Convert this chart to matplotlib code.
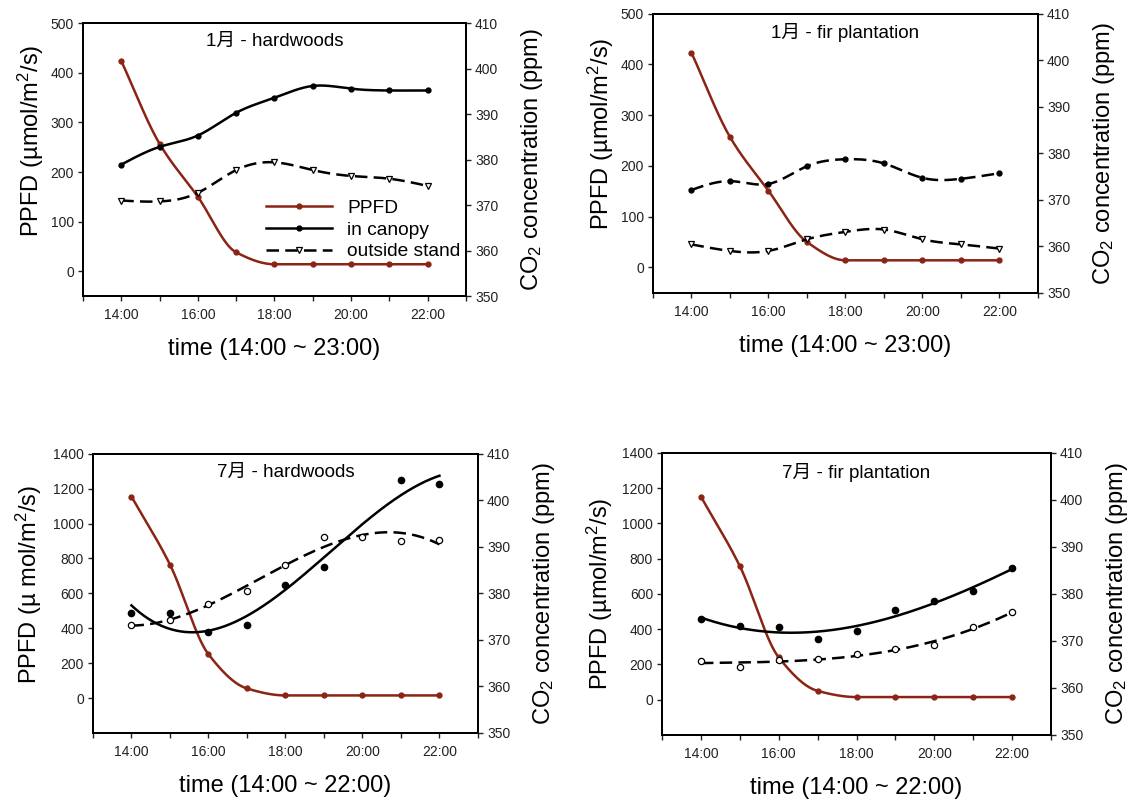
import numpy as np
import matplotlib
matplotlib.use("Agg")
import matplotlib.pyplot as plt

plt.rcParams['font.family'] = ['Liberation Sans', 'Noto Sans CJK SC', 'DejaVu Sans']
plt.rcParams['mathtext.fontset'] = 'custom'
plt.rcParams['mathtext.rm'] = 'Liberation Sans'
plt.rcParams['mathtext.it'] = 'Liberation Sans:italic'

hours = [14, 15, 16, 17, 18, 19, 20, 21, 22]

# January
jan_hw_ppfd = [424, 257, 150, 38, 14, 14, 14, 14, 14]
jan_hw_canopy = [378.9, 382.8, 385.3, 390.3, 393.6, 396.2, 395.6, 395.2, 395.2]
jan_hw_outside = [371.0, 370.8, 372.7, 377.7, 379.4, 377.7, 376.4, 375.8, 374.2]

jan_fir_ppfd = [423, 257, 151, 50, 14, 14, 14, 14, 14]
jan_fir_canopy = [372.1, 374.0, 373.4, 377.2, 378.7, 377.8, 374.7, 374.5, 375.7]
jan_fir_outside = [360.4, 359.0, 359.0, 361.5, 363.1, 363.6, 361.5, 360.4, 359.5]

# July
jul_hw_ppfd = [1155, 765, 251, 55, 15, 15, 15, 15, 15]
jul_hw_canopy = [375.7, 375.7, 371.8, 373.2, 381.8, 385.7, np.nan, 404.3, 403.6]
jul_hw_outside = [373.2, 374.3, 377.7, 380.5, 386.0, 392.2, 392.2, 391.2, 391.4]

jul_fir_ppfd = [1152, 758, 240, 50, 15, 15, 15, 15, 15]
jul_fir_canopy = [374.6, 373.2, 373.0, 370.5, 372.2, 376.6, 378.6, 380.6, 385.5]
jul_fir_outside = [365.7, 364.5, 365.9, 366.2, 367.2, 368.2, 369.1, 373.0, 376.1]

RED = '#8b2414'


def natural_spline(x, y, xs):
    x = np.asarray(x, float); y = np.asarray(y, float)
    n = len(x); h = np.diff(x)
    A = np.zeros((n, n)); b = np.zeros(n)
    A[0, 0] = A[-1, -1] = 1
    for i in range(1, n - 1):
        A[i, i - 1] = h[i - 1]; A[i, i] = 2 * (h[i - 1] + h[i]); A[i, i + 1] = h[i]
        b[i] = 3 * ((y[i + 1] - y[i]) / h[i] - (y[i] - y[i - 1]) / h[i - 1])
    c = np.linalg.solve(A, b)
    bb = (y[1:] - y[:-1]) / h - h * (2 * c[:-1] + c[1:]) / 3
    d = (c[1:] - c[:-1]) / (3 * h)
    k = np.clip(np.searchsorted(x, xs) - 1, 0, n - 2)
    t = xs - x[k]
    return y[k] + bb[k] * t + c[k] * t ** 2 + d[k] * t ** 3


def pchip(x, y, xs):
    x = np.asarray(x, float); y = np.asarray(y, float)
    n = len(x); h = np.diff(x); dl = np.diff(y) / h
    m = np.zeros(n)
    m[0] = dl[0]; m[-1] = dl[-1]
    for i in range(1, n - 1):
        if dl[i - 1] * dl[i] > 0:
            w1 = 2 * h[i] + h[i - 1]; w2 = h[i] + 2 * h[i - 1]
            m[i] = (w1 + w2) / (w1 / dl[i - 1] + w2 / dl[i])
    k = np.clip(np.searchsorted(x, xs) - 1, 0, n - 2)
    t = (xs - x[k]) / h[k]
    h00 = 2 * t**3 - 3 * t**2 + 1; h10 = t**3 - 2 * t**2 + t
    h01 = -2 * t**3 + 3 * t**2; h11 = t**3 - t**2
    return h00 * y[k] + h10 * h[k] * m[k] + h01 * y[k + 1] + h11 * h[k] * m[k + 1]


def polyline(x, y, xs, deg=3):
    x = np.asarray(x, float); y = np.asarray(y, float)
    ok = ~np.isnan(y)
    return np.polyval(np.polyfit(x[ok], y[ok], deg), xs)


fig = plt.figure(figsize=(11.35, 8), dpi=100)
xs = np.linspace(14, 22, 300)

# position, title, data, ylim, tick step, labels, month, canopy line style, ylabel coords
panels = [
    ([0.0731, 0.630, 0.3374, 0.341], '1月 - hardwoods', jan_hw_ppfd, jan_hw_canopy, jan_hw_outside,
     (-50, 500), 100, 'time (14:00 ~ 23:00)', 'PPFD (µmol/m$^2$/s)', 'jan', '-', (-0.097, 0.57)),
    ([0.5753, 0.634, 0.3392, 0.349], '1月 - fir plantation', jan_fir_ppfd, jan_fir_canopy, jan_fir_outside,
     (-50, 500), 100, 'time (14:00 ~ 23:00)', 'PPFD (µmol/m$^2$/s)', 'jan', '--', (-0.095, 0.57)),
    ([0.0819, 0.0838, 0.3392, 0.349], '7月 - hardwoods', jul_hw_ppfd, jul_hw_canopy, jul_hw_outside,
     (-200, 1400), 200, 'time (14:00 ~ 22:00)', 'PPFD (µ mol/m$^2$/s)', 'jul', '-', (-0.127, 0.53)),
    ([0.5833, 0.0813, 0.3427, 0.3525], '7月 - fir plantation', jul_fir_ppfd, jul_fir_canopy, jul_fir_outside,
     (-200, 1400), 200, 'time (14:00 ~ 22:00)', 'PPFD (µmol/m$^2$/s)', 'jul', '-', (-0.12, 0.5)),
]

dash = (5, 2.5)

for i, (pos, title, ppfd, canopy, outside, ylim, ystep, xlab, ylab, month, cstyle, lc) in enumerate(panels):
    ax = fig.add_axes(pos)
    ax2 = ax.twinx()

    ax.plot(xs, pchip(hours, ppfd, xs), color=RED, lw=1.8)
    ax.plot(hours, ppfd, 'o', color=RED, ms=3.5)

    if month == 'jan':
        cl = natural_spline(hours, canopy, xs)
        ol = natural_spline(hours, outside, xs)
        l2, = ax2.plot(xs, cl, color='black', lw=1.8, linestyle=cstyle)
        if cstyle == '--':
            l2.set_dashes(dash)
        ax2.plot(hours, canopy, 'o', color='black', ms=3.5)
        l3, = ax2.plot(xs, ol, color='black', lw=1.8)
        l3.set_dashes(dash)
        ax2.plot(hours, outside, 'v', color='black', mfc='white', ms=5, mew=0.9)
    else:
        cl = polyline(hours, canopy, xs)
        ol = polyline(hours, outside, xs)
        ax2.plot(xs, cl, color='black', lw=1.8)
        ax2.plot(hours, canopy, 'o', color='black', ms=4.5)
        l3, = ax2.plot(xs, ol, color='black', lw=1.8)
        l3.set_dashes(dash)
        ax2.plot(hours, outside, 'o', color='black', mfc='white', ms=4.5, mew=0.9)

    ax.set_xlim(13, 23)
    ax.set_ylim(*ylim)
    ax.set_yticks(np.arange(0, ylim[1] + 1, ystep))
    ax2.set_ylim(350, 410)
    ax2.set_yticks(np.arange(350, 411, 10))
    ax.set_xticks(range(13, 24))
    ax.set_xticklabels(['%d:00' % h if h % 2 == 0 and 14 <= h <= 22 else '' for h in range(13, 24)])

    for a in (ax, ax2):
        a.tick_params(direction='out', length=3.5, width=1, labelsize=10, colors='#222222', pad=3)
        for s in a.spines.values():
            s.set_linewidth(1.4)
    ax.tick_params(axis='x', pad=5)

    ax.set_xlabel(xlab, fontsize=17, labelpad=12)
    ax.set_ylabel(ylab, fontsize=17)
    ax.yaxis.set_label_coords(*lc)
    ax2.set_ylabel('CO$_2$ concentration (ppm)', fontsize=17, labelpad=15)
    ax.text(0.5, 0.965, title, transform=ax.transAxes, ha='center', va='top', fontsize=13.5)

    if i == 0:
        h1, = ax.plot([], [], color=RED, lw=1.8, marker='o', ms=3.5)
        h2, = ax.plot([], [], color='black', lw=1.8, marker='o', ms=3.5)
        h3, = ax.plot([], [], color='black', lw=1.8, marker='v', ms=5, mfc='white', mew=0.9)
        h3.set_dashes(dash)
        ax2.legend([h1, h2, h3], ['PPFD', 'in canopy', 'outside stand'], loc='lower right',
                   bbox_to_anchor=(1.0, 0.11), frameon=False, fontsize=13.8, handlelength=3.4,
                   handletextpad=0.8, labelspacing=0.22, borderaxespad=0.1, borderpad=0.2)

fig.savefig('out.png', dpi=100)
